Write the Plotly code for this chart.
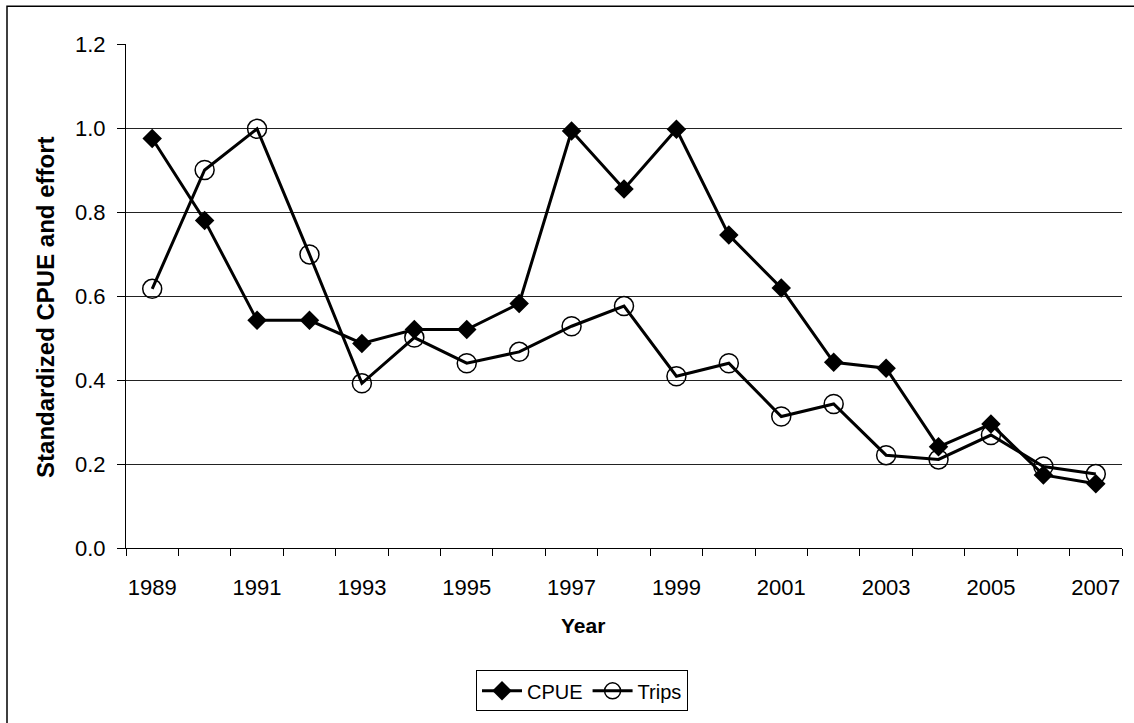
import plotly.graph_objects as go

years = list(range(1989, 2008))
cpue = [0.975, 0.780, 0.542, 0.542, 0.487, 0.520, 0.520, 0.582, 0.993, 0.855,
        0.997, 0.745, 0.619, 0.442, 0.428, 0.241, 0.295, 0.174, 0.153]
trips = [0.617, 0.900, 0.998, 0.699, 0.392, 0.501, 0.440, 0.467, 0.528, 0.576,
         0.409, 0.440, 0.313, 0.343, 0.221, 0.211, 0.269, 0.194, 0.176]
xtick_labels = [str(y) for y in range(1989, 2008, 2)]
ytick_vals = [0.0, 0.2, 0.4, 0.6, 0.8, 1.0, 1.2]

FONT = "Arial, Liberation Sans, sans-serif"

fig = go.Figure()
fig.add_trace(go.Scatter(
    x=years, y=cpue, name="CPUE", mode="lines+markers",
    line=dict(color="black", width=3),
    marker=dict(symbol="diamond", size=15, color="black"),
))
fig.add_trace(go.Scatter(
    x=years, y=trips, name="Trips", mode="lines+markers",
    line=dict(color="black", width=3),
    marker=dict(symbol="circle-open", size=19, color="black", line=dict(width=1.5, color="black")),
))

W, H = 1134, 723
L, R, T, B = 126, 12, 44, 171
pw, ph = W - L - R, H - T - B

def px(x):
    return (x - L) / pw

def py(y):
    return (H - B - y) / ph

fig.update_layout(
    width=W, height=H,
    margin=dict(l=L, r=R, t=T, b=B, pad=0),
    paper_bgcolor="white", plot_bgcolor="white",
    font=dict(family=FONT, size=22, color="black"),
    showlegend=True,
    legend=dict(
        orientation="h", x=px(582), y=py(696), xanchor="center", yanchor="middle",
        bordercolor="black", borderwidth=1, font=dict(size=20),
        itemwidth=40, tracegroupgap=0,
    ),
    xaxis=dict(
        range=[1988.5, 2007.5],
        tickvals=[int(t) for t in xtick_labels], ticktext=xtick_labels,
        ticks="", showgrid=False, zeroline=False,
        showline=True, linecolor="black", linewidth=1,
        ticklabelstandoff=20,
        minor=dict(tick0=1988.5, dtick=1, ticks="outside", ticklen=7,
                   tickcolor="black", tickwidth=1, showgrid=False),
        tickfont=dict(size=22),
    ),
    yaxis=dict(
        range=[0, 1.2], tickvals=ytick_vals, tickformat=".1f",
        ticks="outside", ticklen=8, tickcolor="black", tickwidth=1,
        showgrid=True, gridcolor="#222222", gridwidth=1,
        zeroline=False, showline=True, linecolor="black", linewidth=1,
        ticklabelstandoff=7,
        tickfont=dict(size=22),
    ),
    annotations=[
        dict(text="<b>Standardized CPUE and effort</b>", xref="paper", yref="paper",
             x=px(46), y=py(310), textangle=-90, showarrow=False,
             xanchor="center", yanchor="middle", font=dict(size=24)),
        dict(text="<b>Year</b>", xref="paper", yref="paper",
             x=px(583), y=py(630), showarrow=False,
             xanchor="center", yanchor="middle", font=dict(size=21)),
    ],
    shapes=[
        dict(type="rect", xref="paper", yref="paper",
             x0=px(7), y0=py(740), x1=px(1150), y1=py(6),
             line=dict(color="black", width=1.5), fillcolor="rgba(0,0,0,0)", layer="below"),
    ],
)

fig.write_html("out.html", config={"displayModeBar": False},
               post_script="document.body.style.margin='0';")
